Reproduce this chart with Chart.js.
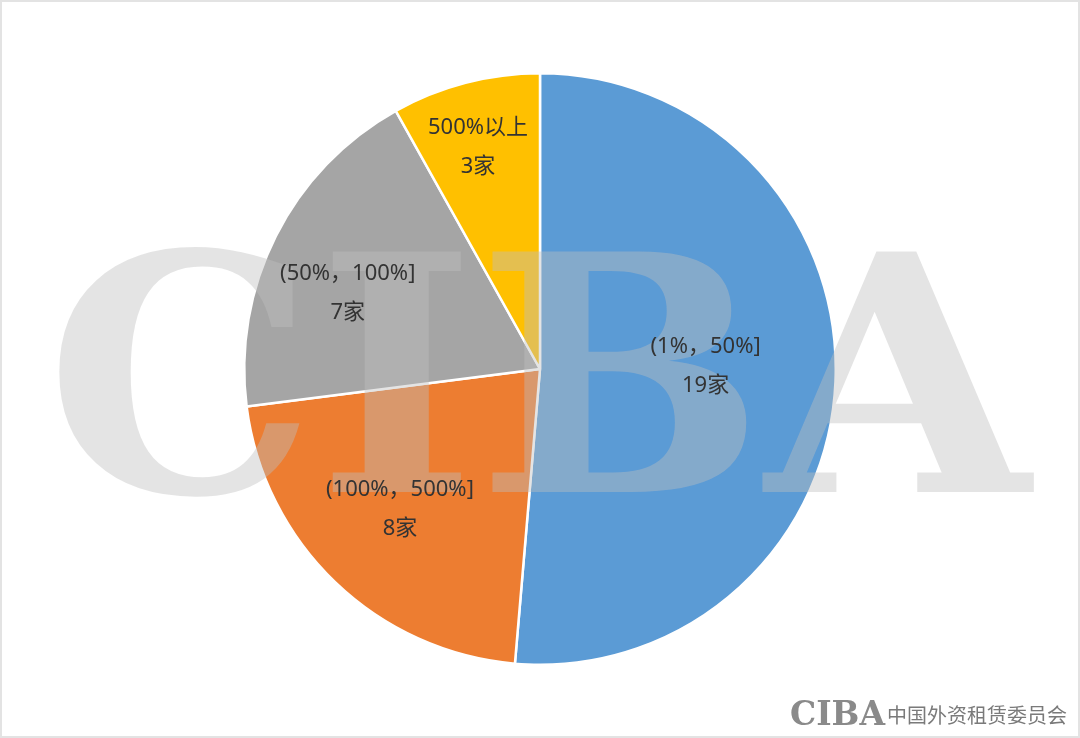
<!DOCTYPE html>
<html>
<head>
<meta charset="utf-8">
<script src="https://cdn.jsdelivr.net/npm/chart.js@4"></script>
<style>
  html, body { margin: 0; padding: 0; background: #fff; }
  #wrap { position: relative; width: 1080px; height: 738px; box-sizing: border-box; border: 2px solid #e3e3e3; }
  canvas { display: block; }
</style>
</head>
<body>
<div id="wrap"><canvas id="pieChart" width="1076" height="734"></canvas></div>
<script>
// data
const categories = ['(1%，50%]', '(100%，500%]', '(50%，100%]', '500%以上'];
const counts = [19, 8, 7, 3];
const unit = '家';
const sliceColors = ['#5B9BD5', '#ED7D31', '#A5A5A5', '#FFC000'];
// label placement: fraction of radius, and angle nudge in degrees
const labelRadius = [0.56, 0.67, 0.70, 0.78];
const labelNudge = [-3.4, 1.2, -5, -1];

// big faded logo over the pie + slice labels
const overlayPlugin = {
    id: 'overlay',
    afterDatasetsDraw(chart) {
        const ctx = chart.ctx;
        ctx.save();
        ctx.font = 'bold 330px "DejaVu Serif"';
        ctx.textBaseline = 'alphabetic';
        const w = ctx.measureText('CIBA').width;
        const sx = 985 / w;
        ctx.translate(43, 490);
        ctx.scale(sx, 1);
        ctx.fillStyle = 'rgba(190,190,190,0.42)';
        ctx.fillText('CIBA', 0, 0);
        ctx.restore();
    },
    afterDraw(chart) {
        const ctx = chart.ctx;
        const meta = chart.getDatasetMeta(0);
        ctx.save();
        ctx.font = '22px "Noto Sans", "Noto Sans CJK SC"';
        ctx.fillStyle = '#333333';
        ctx.textAlign = 'center';
        ctx.textBaseline = 'middle';
        meta.data.forEach((arc, i) => {
            const p = arc.getProps(['x', 'y', 'startAngle', 'endAngle', 'outerRadius'], true);
            const mid = (p.startAngle + p.endAngle) / 2 + labelNudge[i] * Math.PI / 180;
            const r = p.outerRadius * labelRadius[i];
            const x = p.x + Math.cos(mid) * r;
            const y = p.y + Math.sin(mid) * r;
            ctx.fillText(categories[i], x, y - 19);
            ctx.fillText(counts[i] + unit, x, y + 20);
        });

        // small logo bottom right
        ctx.textAlign = 'left';
        ctx.textBaseline = 'alphabetic';
        ctx.fillStyle = '#8a8a8a';
        ctx.font = 'bold 34px "DejaVu Serif"';
        ctx.save();
        const lw = ctx.measureText('CIBA').width;
        ctx.translate(788, 723);
        ctx.scale(95 / lw, 1);
        ctx.fillText('CIBA', 0, 0);
        ctx.restore();
        ctx.fillStyle = '#7a7a7a';
        ctx.font = '20px "Noto Sans CJK SC"';
        ctx.fillText('中国外资租赁委员会', 885, 721);
        ctx.restore();
    }
};

document.addEventListener('DOMContentLoaded', function() {
    const ctx = document.getElementById('pieChart').getContext('2d');
    new Chart(ctx, {
        type: 'pie',
        data: {
            labels: categories,
            datasets: [{
                data: counts,
                backgroundColor: sliceColors,
                borderColor: '#ffffff',
                borderWidth: 2.5
            }]
        },
        options: {
            responsive: false,
            animation: false,
            layout: { padding: { top: 70, bottom: 70 } },
            plugins: {
                legend: { display: false },
                tooltip: { enabled: false }
            }
        },
        plugins: [overlayPlugin]
    });
});
</script>
</body>
</html>
